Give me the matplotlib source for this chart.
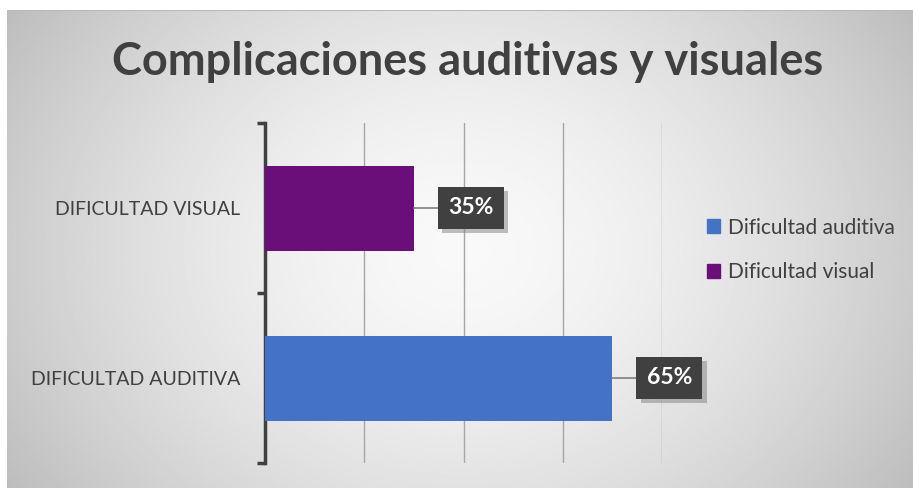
import numpy as np
import matplotlib
matplotlib.use('Agg')
import matplotlib.pyplot as plt
import matplotlib.patheffects as pe

plt.rcParams['font.family'] = ['Lato', 'DejaVu Sans']

# data
categorias = ['DIFICULTAD AUDITIVA', 'DIFICULTAD VISUAL']
valores = [7, 3]
etiquetas = ['65%', '35%']
colores = ['#4472C4', '#6A0F7A']
leyenda = ['Dificultad auditiva', 'Dificultad visual']

W, H = 913, 488
fig = plt.figure(figsize=(W / 100, H / 100), dpi=100)

# radial gradient background of the chart area
bg = fig.add_axes([7 / W, 0, 906 / W, 478 / H])
yy, xx = np.mgrid[-1:1:300j, -1:1:600j]
r = np.sqrt((xx * 0.85) ** 2 + (yy * 0.55) ** 2)
grad = 0.975 - 0.23 * np.clip(r, 0, 1.2) ** 1.6
bg.imshow(grad, cmap='gray', vmin=0, vmax=1, aspect='auto', extent=[0, 1, 0, 1])
bg.plot([0, 1], [1, 1], color='#b8b8b8', lw=1.5)
bg.set_xlim(0, 1)
bg.set_ylim(0, 1)
bg.axis('off')

ax = fig.add_axes([265 / W, 25 / H, 397 / W, 340 / H])
ax.patch.set_alpha(0)
y = np.arange(len(categorias))
bars = ax.barh(y, valores, height=0.5, color=colores, zorder=3)

ax.set_xlim(0, 8)
ax.set_ylim(-0.5, 1.5)
ax.set_xticks([0, 2, 4, 6, 8])
ax.set_xticklabels([])
ax.tick_params(axis='x', length=0)
ax.grid(axis='x', color='#a6a6a6', lw=1, zorder=0)

ax.set_yticks(y)
ax.set_yticklabels(categorias, fontsize=14, color='#404040')
ax.tick_params(axis='y', which='major', length=0, pad=18)
ax.set_yticks([-0.5, 0.5, 1.5], minor=True)
ax.tick_params(axis='y', which='minor', length=6, width=2.5, color='#404040')

for s in ['top', 'right', 'bottom']:
    ax.spines[s].set_visible(False)
ax.spines['left'].set_color('#404040')
ax.spines['left'].set_linewidth(2.5)

# data labels with leader lines and a dark box with soft shadow
for yi, v, lab in zip(y, valores, etiquetas):
    t = ax.annotate(lab, xy=(v, yi), xytext=(v + 1.15, yi),
                    color='white', fontsize=16.5, fontweight='bold', ha='center', va='center',
                    bbox=dict(boxstyle='square,pad=0.45', fc='#404040', ec='none'),
                    arrowprops=dict(arrowstyle='-', color='#7f7f7f', lw=1.2, shrinkA=0, shrinkB=0),
                    zorder=5)
    t.get_bbox_patch().set_path_effects([
        pe.SimplePatchShadow(offset=(3, -3), shadow_rgbFace='#808080', alpha=0.5),
        pe.Normal()])

# legend
handles = [plt.Rectangle((0, 0), 1, 1, color=c) for c in colores]
fig.legend(handles, leyenda, loc='center left', bbox_to_anchor=(688 / W, 1 - 250 / H),
           frameon=False, fontsize=15, handlelength=0.65, handleheight=0.65,
           handletextpad=0.35, labelspacing=1.2, labelcolor='#404040')

fig.text(468 / W, 1 - 62 / H, 'Complicaciones auditivas y visuales', ha='center', va='center',
         fontsize=32.5, fontweight='bold', color='#404040')

fig.savefig('out.png', dpi=100)
